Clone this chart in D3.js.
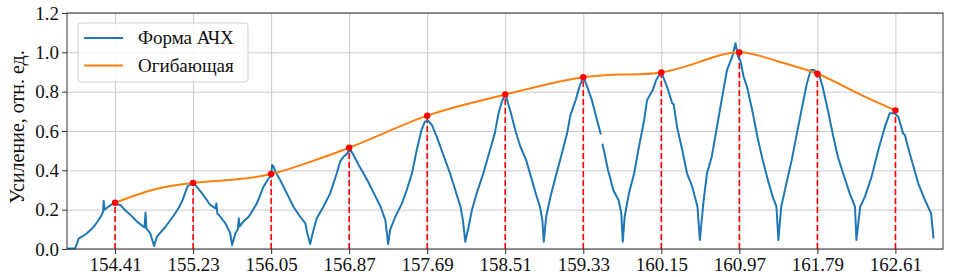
<!DOCTYPE html>
<html>
<head>
<meta charset="utf-8">
<script src="https://cdn.jsdelivr.net/npm/d3@7/dist/d3.min.js"></script>
<style>
body { margin: 0; background: #fff; }
.achx text { font-family: 'Liberation Serif', 'Times New Roman', Times, 'DejaVu Serif', serif; }
</style>
</head>
<body>
<svg class="achx" width="965" height="277"></svg>
<script>
// tick positions = peak frequencies
const peakFreq = [154.41, 155.23, 156.05, 156.87, 157.69, 158.51, 159.33, 160.15, 160.97, 161.79, 162.61];
const peakGain = [0.235, 0.336, 0.381, 0.515, 0.678, 0.786, 0.873, 0.898, 1.0, 0.891, 0.705];

// envelope (peaks + midpoints)
const envelopeFreq = [154.41, 154.82, 155.23, 155.64, 156.05, 156.46, 156.87, 157.28, 157.69, 158.10, 158.51,
    158.92, 159.33, 159.74, 160.15, 160.56, 160.97, 161.38, 161.79, 162.20, 162.61];
const envelopeGain = [0.235, 0.303, 0.336, 0.352, 0.381, 0.443, 0.515, 0.598, 0.678, 0.736, 0.786,
    0.834, 0.873, 0.887, 0.898, 0.953, 1.0, 0.953, 0.891, 0.795, 0.705];

// measured response [freq, gain], null = gap in the trace
const responsePoints = [
    [153.905, 0.003], [153.99, 0.003], [154.03, 0.054], [154.07, 0.065], [154.115, 0.08], [154.16, 0.10],
    [154.20, 0.122], [154.24, 0.15], [154.27, 0.173], [154.285, 0.19], [154.29, 0.245], [154.30, 0.20],
    [154.34, 0.215], [154.38, 0.228], [154.41, 0.235], [154.44, 0.226], [154.465, 0.224], [154.50, 0.205],
    [154.555, 0.181], [154.60, 0.16], [154.64, 0.139], [154.71, 0.113], [154.72, 0.11], [154.73, 0.185],
    [154.74, 0.105], [154.78, 0.08], [154.82, 0.015], [154.85, 0.063], [154.94, 0.113], [155.03, 0.173],
    [155.08, 0.21], [155.12, 0.249], [155.17, 0.317], [155.22, 0.339], [155.255, 0.325], [155.325, 0.283],
    [155.41, 0.224], [155.465, 0.207], [155.475, 0.232], [155.485, 0.18], [155.50, 0.173], [155.57, 0.13],
    [155.62, 0.08], [155.64, 0.02], [155.675, 0.08], [155.70, 0.10], [155.71, 0.156], [155.72, 0.115],
    [155.76, 0.14], [155.815, 0.164], [155.86, 0.20], [155.90, 0.232], [155.97, 0.317], [156.025, 0.36],
    [156.05, 0.37], [156.06, 0.427], [156.075, 0.42], [156.095, 0.393], [156.145, 0.351], [156.215, 0.283],
    [156.285, 0.215], [156.355, 0.164], [156.41, 0.13], [156.43, 0.08], [156.46, 0.025], [156.49, 0.088],
    [156.53, 0.156], [156.60, 0.215], [156.67, 0.283], [156.74, 0.385], [156.775, 0.444], [156.81, 0.469],
    [156.85, 0.486], [156.88, 0.507], [156.915, 0.478], [156.97, 0.427], [157.06, 0.351], [157.13, 0.283],
    [157.20, 0.215], [157.25, 0.147], [157.28, 0.025], [157.30, 0.097], [157.355, 0.164], [157.425, 0.232],
    [157.475, 0.30], [157.53, 0.385], [157.58, 0.503], [157.63, 0.605], [157.665, 0.647], [157.70, 0.652],
    [157.74, 0.63], [157.79, 0.571], [157.86, 0.478], [157.93, 0.385], [157.985, 0.30], [158.04, 0.215],
    [158.065, 0.147], [158.09, 0.037], [158.125, 0.113], [158.16, 0.198], [158.21, 0.283], [158.28, 0.385],
    [158.35, 0.503], [158.40, 0.588], [158.44, 0.69], [158.475, 0.75], [158.51, 0.785], [158.53, 0.757],
    [158.57, 0.69], [158.62, 0.596], [158.67, 0.52], [158.73, 0.452], [158.78, 0.368], [158.83, 0.283],
    [158.875, 0.215], [158.90, 0.147], [158.915, 0.037], [158.94, 0.164], [158.985, 0.266], [159.04, 0.368],
    [159.105, 0.486], [159.16, 0.588], [159.195, 0.681], [159.25, 0.757], [159.29, 0.825], [159.33, 0.875],
    [159.365, 0.834], [159.42, 0.757], [159.47, 0.664], [159.505, 0.60], [159.515, 0.582], [159.52, null],
    [159.53, 0.535], [159.55, 0.495], [159.59, 0.402], [159.645, 0.30], [159.70, 0.249], [159.73, 0.181],
    [159.745, 0.037], [159.765, 0.164], [159.81, 0.283], [159.865, 0.385], [159.915, 0.52], [159.97, 0.656],
    [160.0, 0.757], [160.06, 0.808], [160.095, 0.859], [160.15, 0.90], [160.21, 0.825], [160.265, 0.741],
    [160.28, 0.735], [160.315, 0.622], [160.37, 0.503], [160.42, 0.385], [160.475, 0.317], [160.53, 0.215],
    [160.555, 0.046], [160.595, 0.249], [160.63, 0.385], [160.68, 0.469], [160.735, 0.622], [160.79, 0.774],
    [160.84, 0.91], [160.895, 0.978], [160.93, 1.046], [160.955, 0.978], [160.98, 0.96], [161.015, 0.876],
    [161.05, 0.825], [161.105, 0.707], [161.16, 0.571], [161.215, 0.452], [161.27, 0.351], [161.32, 0.266],
    [161.36, 0.215], [161.38, 0.046], [161.41, 0.215], [161.465, 0.334], [161.52, 0.452], [161.575, 0.588],
    [161.63, 0.723], [161.68, 0.842], [161.72, 0.91], [161.755, 0.91], [161.81, 0.885], [161.845, 0.825],
    [161.90, 0.707], [161.95, 0.588], [162.005, 0.469], [162.06, 0.385], [162.13, 0.283], [162.185, 0.215],
    [162.20, 0.046], [162.24, 0.215], [162.29, 0.266], [162.36, 0.368], [162.43, 0.503], [162.50, 0.622],
    [162.55, 0.69], [162.60, 0.69], [162.64, 0.673], [162.69, 0.588], [162.71, 0.58], [162.73, 0.54],
    [162.78, 0.452], [162.85, 0.334], [162.92, 0.249], [162.985, 0.181], [163.01, 0.054]
];

const yTicks = [0, 0.2, 0.4, 0.6, 0.8, 1.0, 1.2];
const legendNames = ['Форма АЧХ', 'Огибающая'];
const yLabel = 'Усиление, отн. ед.';

renderResponse();

function renderResponse()
{
    const margin = { top: 13, left: 67, right: 22, bottom: 28 };
    const width = 965 - margin.left - margin.right;
    const height = 277 - margin.top - margin.bottom;
    const blue = '#1f77b4', orange = '#ff7f0e', red = '#ff0000';
    const serif = "'Liberation Serif', 'Times New Roman', Times, 'DejaVu Serif', serif";

    const svg = d3.select('.achx');
    svg.append('rect').attr('width', 965).attr('height', 277).attr('fill', '#fff');

    const chart = svg.append('g')
        .attr('transform', `translate(${margin.left}, ${margin.top})`);

    const xScale = d3.scaleLinear()
        .domain([153.905, 163.11])
        .range([0, width]);

    const yScale = d3.scaleLinear()
        .domain([0, 1.2])
        .range([height, 0]);

    // grid
    chart.append('g')
        .attr('class', 'grid')
        .call(d3.axisBottom(xScale).tickValues(peakFreq).tickSize(height).tickFormat(''))
        .call(g => g.select('.domain').remove());
    chart.append('g')
        .attr('class', 'grid')
        .call(d3.axisLeft(yScale).tickValues(yTicks).tickSize(-width).tickFormat(''))
        .call(g => g.select('.domain').remove());
    chart.selectAll('.grid line')
        .attr('stroke', '#cbcbcb')
        .attr('stroke-width', 1);

    // red dashed drops
    chart.selectAll('.drop')
        .data(peakFreq)
        .enter()
        .append('line')
        .attr('class', 'drop')
        .attr('x1', d => xScale(d))
        .attr('x2', d => xScale(d))
        .attr('y1', yScale(0))
        .attr('y2', (d, i) => yScale(peakGain[i]))
        .attr('stroke', red)
        .attr('stroke-width', 1.6)
        .attr('stroke-dasharray', '6,3');

    const responseLine = d3.line()
        .defined(d => d[1] !== null)
        .x(d => xScale(d[0]))
        .y(d => yScale(d[1]));

    chart.append('path')
        .datum(responsePoints)
        .attr('d', responseLine)
        .attr('fill', 'none')
        .attr('stroke', blue)
        .attr('stroke-width', 2)
        .attr('stroke-linejoin', 'round');

    const envelopeLine = d3.line()
        .x((d, i) => xScale(envelopeFreq[i]))
        .y(d => yScale(d))
        .curve(d3.curveNatural);

    chart.append('path')
        .datum(envelopeGain)
        .attr('d', envelopeLine)
        .attr('fill', 'none')
        .attr('stroke', orange)
        .attr('stroke-width', 2);

    chart.selectAll('.peak')
        .data(peakFreq)
        .enter()
        .append('circle')
        .attr('class', 'peak')
        .attr('cx', d => xScale(d))
        .attr('cy', (d, i) => yScale(peakGain[i]))
        .attr('r', 3.2)
        .attr('fill', red);

    // frame
    chart.append('rect')
        .attr('width', width)
        .attr('height', height)
        .attr('fill', 'none')
        .attr('stroke', '#333')
        .attr('stroke-width', 1);

    const xAxis = chart.append('g')
        .attr('transform', `translate(0, ${height})`)
        .call(d3.axisBottom(xScale)
            .tickValues(peakFreq)
            .tickFormat(d3.format('.2f'))
            .tickSize(5)
            .tickPadding(4));
    const yAxis = chart.append('g')
        .call(d3.axisLeft(yScale)
            .tickValues(yTicks)
            .tickFormat(d3.format('.1f'))
            .tickSize(5)
            .tickPadding(3));
    [xAxis, yAxis].forEach(ax => {
        ax.attr('font-family', null).attr('font-size', null);
        ax.select('.domain').remove();
        ax.selectAll('line').attr('stroke', '#333');
        ax.selectAll('text')
            .attr('fill', '#111')
            .attr('font-family', serif)
            .attr('font-size', 19);
    });

    svg.append('text')
        .attr('transform', `translate(24, ${margin.top + height / 2 - 4}) rotate(-90)`)
        .attr('text-anchor', 'middle')
        .attr('fill', '#111')
        .attr('font-family', serif)
        .attr('font-size', 20)
        .text(yLabel);

    // legend
    const legend = svg.append('g').attr('transform', 'translate(78, 23)');
    legend.append('rect')
        .attr('width', 170)
        .attr('height', 59)
        .attr('rx', 3)
        .attr('fill', '#fff')
        .attr('fill-opacity', 0.8)
        .attr('stroke', '#d0d0d0');
    legendNames.forEach((name, i) => {
        const yy = 15 + i * 27.5;
        legend.append('line')
            .attr('x1', 6).attr('x2', 45)
            .attr('y1', yy).attr('y2', yy)
            .attr('stroke', i === 0 ? blue : orange)
            .attr('stroke-width', 2);
        legend.append('text')
            .attr('x', 60)
            .attr('y', yy + 6)
            .attr('fill', '#111')
            .attr('font-family', serif)
            .attr('font-size', 19)
            .text(name);
    });
}
</script>
</body>
</html>
